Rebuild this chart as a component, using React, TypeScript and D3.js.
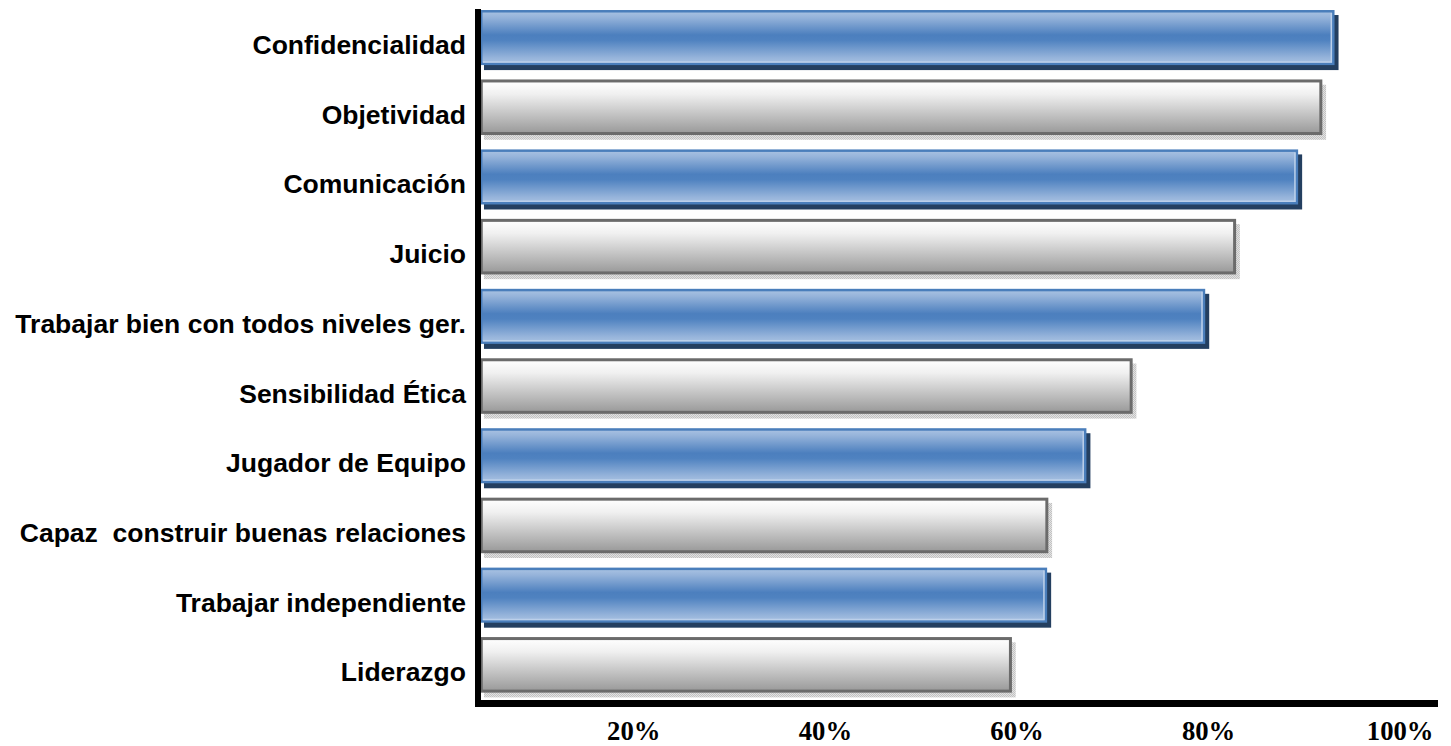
import React, { useEffect, useRef } from "react";
import * as d3 from "d3";

// Competencias, ordered from top to bottom
const categories = [
  "Confidencialidad",
  "Objetividad",
  "Comunicación",
  "Juicio",
  "Trabajar bien con todos niveles ger.",
  "Sensibilidad Ética",
  "Jugador de Equipo",
  "Capaz  construir buenas relaciones",
  "Trabajar independiente",
  "Liderazgo",
];

// Share of respondents (fraction of 1)
const values = [0.932, 0.919, 0.894, 0.829, 0.797, 0.721, 0.673, 0.633, 0.632, 0.595];

const tickValues = [0.2, 0.4, 0.6, 0.8, 1.0];
const tickLabels = ["20%", "40%", "60%", "80%", "100%"];

// Value axis starts a little above zero and runs slightly past 100%
const axisDomain: [number, number] = [0.04, 1.04];

const W = 1451;
const H = 746;

export default function App() {
  const xAxisRef = useRef<SVGGElement>(null);
  const yAxisRef = useRef<SVGGElement>(null);

  const x = d3.scaleLinear().domain(axisDomain).range([480, 1438]);
  const y = d3
    .scaleBand<string>()
    .domain(categories)
    .range([2.7, 699.7])
    .paddingInner(0.21)
    .paddingOuter(0.105);

  const axisX = x(axisDomain[0]);
  const axisY = 703.5;

  useEffect(() => {
    if (xAxisRef.current) {
      const g = d3.select(xAxisRef.current);
      g.call(
        d3
          .axisBottom(x)
          .tickValues(tickValues)
          .tickFormat((_, i) => tickLabels[i])
          .tickSize(0)
          .tickPadding(0)
      );
      g.select(".domain").remove();
      g.selectAll("text")
        .attr("dy", null)
        .attr("y", 36.5)
        .attr("fill", "#000")
        .style("font-family", "'Liberation Serif', 'Times New Roman', serif")
        .style("font-weight", "bold")
        .style("font-size", "26.7px");
    }
    if (yAxisRef.current) {
      const g = d3.select(yAxisRef.current);
      g.call(d3.axisLeft(y).tickSize(0).tickPadding(13));
      g.select(".domain").remove();
      g.selectAll("text")
        .attr("dy", null)
        .attr("y", 16.5)
        .attr("fill", "#000")
        .style("white-space", "pre")
        .style("font-family", "'Liberation Sans', Arial, sans-serif")
        .style("font-weight", "bold")
        .style("font-size", "26.5px");
    }
  }, []);

  const bw = y.bandwidth();

  return (
    <svg
      width={W}
      height={H}
      style={{ position: "absolute", left: 0, top: 0, background: "#fff" }}
    >
      <defs>
        <linearGradient id="blueFill" x1="0" y1="0" x2="0" y2="1">
          <stop offset="0" stopColor="#a9c2e2" />
          <stop offset="0.12" stopColor="#95b3da" />
          <stop offset="0.45" stopColor="#4c7fbe" />
          <stop offset="0.55" stopColor="#4f82c0" />
          <stop offset="0.88" stopColor="#95b3da" />
          <stop offset="1" stopColor="#a9c2e2" />
        </linearGradient>
        <linearGradient id="grayFill" x1="0" y1="0" x2="0" y2="1">
          <stop offset="0" stopColor="#ffffff" />
          <stop offset="0.25" stopColor="#f0f0f0" />
          <stop offset="1" stopColor="#999999" />
        </linearGradient>
        <pattern id="grayShadow" width="2" height="2" patternUnits="userSpaceOnUse">
          <rect width="2" height="2" fill="#e2e2e2" />
          <rect width="1" height="1" fill="#c2c2c2" />
          <rect x="1" y="1" width="1" height="1" fill="#c2c2c2" />
        </pattern>
      </defs>

      <g>
        {categories.map((c, i) => {
          const blue = i % 2 === 0;
          const x0 = axisX;
          const x1 = x(values[i]);
          const top = y(c)!;
          const w = x1 - x0;
          return (
            <g key={c}>
              <rect
                x={x0 + 4}
                y={top + 5}
                width={w}
                height={bw}
                fill={blue ? "#243f60" : "url(#grayShadow)"}
              />
              <rect
                x={x0 + 1.25}
                y={top + 1.25}
                width={w - 2.5}
                height={bw - 2.5}
                fill={blue ? "url(#blueFill)" : "url(#grayFill)"}
                stroke={blue ? "#4a7ebb" : "#6b6b6b"}
                strokeWidth={blue ? 2.5 : 3}
              />
              {blue && (
                <polyline
                  points={`${x1 - 3.2},${top + 3} ${x1 - 3.2},${top + bw - 3.2} ${x0 + 3},${top + bw - 3.2}`}
                  fill="none"
                  stroke="#bcd0ea"
                  strokeWidth={1.5}
                />
              )}
            </g>
          );
        })}
      </g>

      {/* axis lines */}
      <line x1={axisX - 2} x2={axisX - 2} y1={9} y2={axisY + 3.5} stroke="#000" strokeWidth={6} />
      <line x1={axisX - 5} x2={x(axisDomain[1])} y1={axisY} y2={axisY} stroke="#000" strokeWidth={7} />

      <g ref={yAxisRef} transform={`translate(${axisX - 1},0)`} />
      <g ref={xAxisRef} transform={`translate(0,${axisY})`} />
    </svg>
  );
}
